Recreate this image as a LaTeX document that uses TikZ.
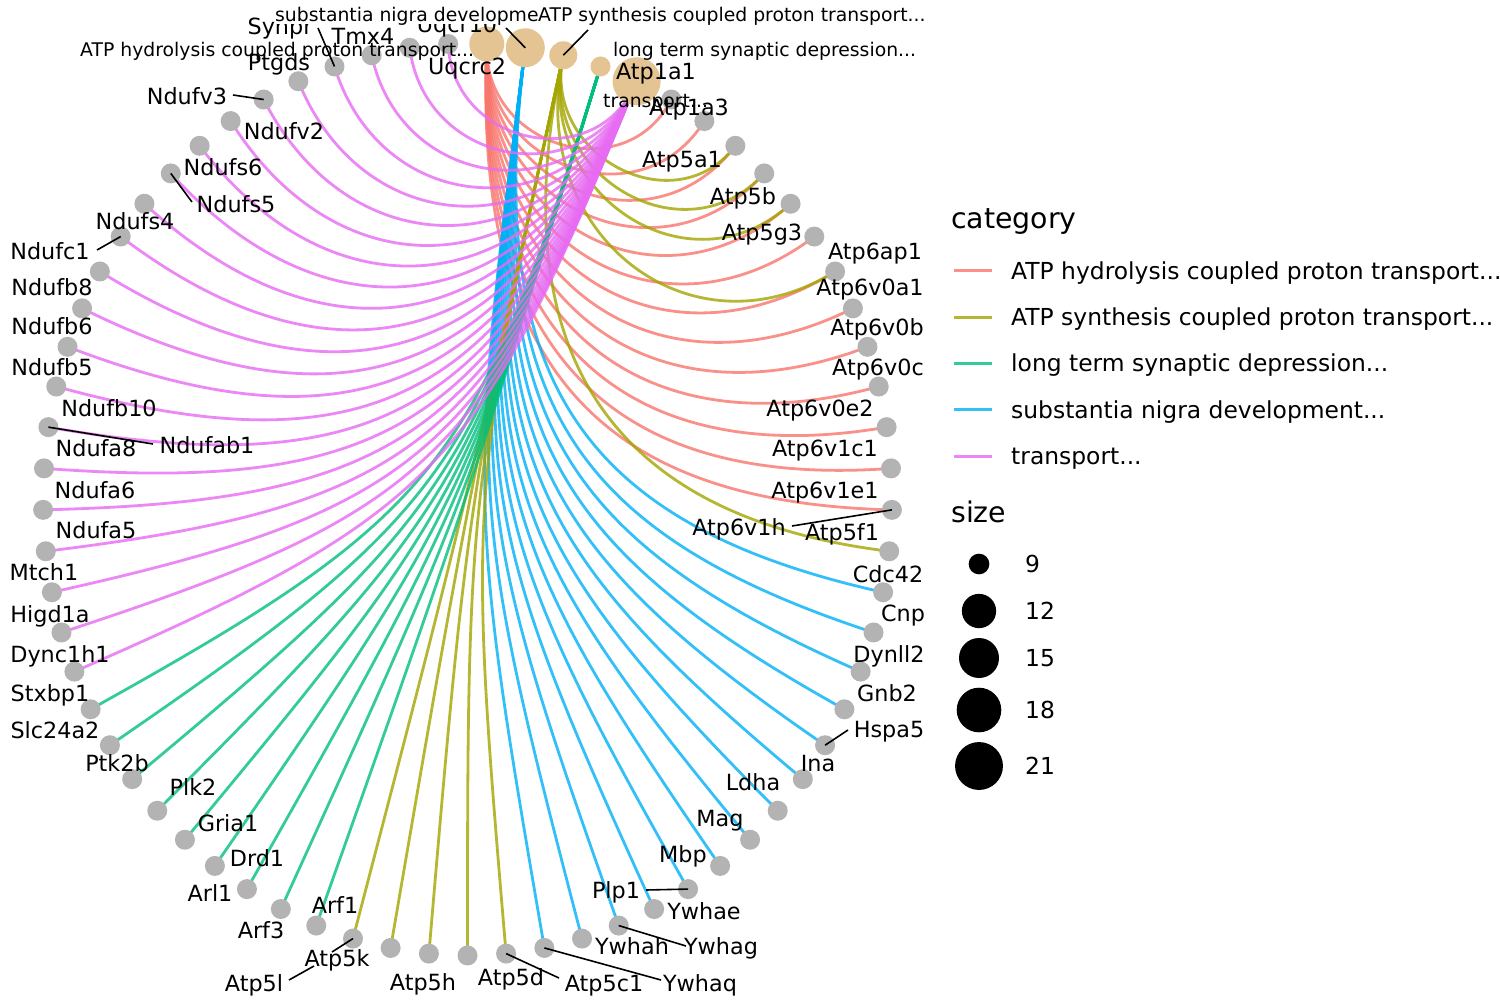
\documentclass[tikz,border=0pt]{standalone}
\usepackage{fontspec}
\setmainfont{DejaVu Sans}
\usetikzlibrary{calc}
\pgfdeclarelayer{background}
\pgfsetlayers{background,main}
\definecolor{cHyd}{HTML}{F8766D}
\definecolor{cSyn}{HTML}{A3A500}
\definecolor{cLtd}{HTML}{00BF7D}
\definecolor{cSub}{HTML}{00B0F6}
\definecolor{cTra}{HTML}{E76BF3}
\definecolor{geneGray}{HTML}{B3B3B3}
\definecolor{catTan}{HTML}{E5C494}
\newcommand{\catedge}[3]{%
  \pgfmathsetmacro\fa{(#1+0.5)*5.2173913}%
  \pgfmathsetmacro\fb{(#2+0.5)*5.2173913}%
  \pgfmathsetmacro\ff{1-abs(sin((\fa-\fb)/2))}%
  \draw[edgeline,#3] (n#1.center) .. controls ($(O)!\ff!(n#1.center)$) and ($(O)!\ff!(n#2.center)$) .. (n#2.center);}
\newcommand{\gl}[4]{\node[glab] (#1) at (#2,{#3+8}) {#4};}
\tikzset{
  gene/.style={circle, fill=geneGray, inner sep=0pt, minimum size=20pt},
  catnode/.style={circle, fill=catTan, inner sep=0pt},
  edgeline/.style={line width=2.8pt, opacity=0.8},
  keyline/.style={line width=3pt, opacity=0.8},
  glab/.style={font=\fontsize{22.3}{26}\selectfont, inner sep=0pt, anchor=base},
  clab/.style={font=\fontsize{18.8}{22}\selectfont, inner sep=0pt, anchor=base west},
  ltitle/.style={font=\fontsize{28.4}{32}\selectfont, inner sep=0pt, anchor=base west},
  ltext/.style={font=\fontsize{23.4}{27}\selectfont, inner sep=0pt, anchor=base west},
  leader/.style={line width=1.6pt, black},
  sizedot/.style={circle, fill=black, inner sep=0pt}
}
\begin{document}
\begin{tikzpicture}[x=1pt, y=-1pt]
\useasboundingbox (0,0) rectangle (1500,1000);
\coordinate (O) at (467.5,499.5);
\foreach \k in {0,...,68} {
  \pgfmathsetmacro\ang{(\k+0.5)*5.2173913}
  \coordinate (p\k) at ({467.5+424.5*sin(\ang)},{499.5-456*cos(\ang)});
}
% category nodes
\node[catnode, minimum size=35pt] (n0) at (p0) {};
\node[catnode, minimum size=39pt] (n1) at (p1) {};
\node[catnode, minimum size=28pt] (n2) at (p2) {};
\node[catnode, minimum size=20pt] (n3) at (p3) {};
\node[catnode, minimum size=48pt] (n4) at (p4) {};
% gene nodes
\foreach \k in {5,...,68} {\node[gene] (n\k) at (p\k) {};}
% edges
\begin{pgfonlayer}{background}
\fill[white] (0,0) rectangle (1500,1000);
\foreach \g in {5,...,17} {\catedge{0}{\g}{cHyd}}
\foreach \g in {19,...,32} {\catedge{1}{\g}{cSub}}
\foreach \g in {7,8,9,11,18,33,34,35,36,37} {\catedge{2}{\g}{cSyn}}
\foreach \g in {38,...,46} {\catedge{3}{\g}{cLtd}}
\foreach \g in {47,...,68} {\catedge{4}{\g}{cTra}}
\end{pgfonlayer}
% leader segments
\coordinate (sSynpr) at (318,28);   \draw[leader] (sSynpr) -- (n65.center);
\coordinate (sSub) at (506,28);     \draw[leader] (sSub) -- (n1.center);
\coordinate (sSyn) at (588,30);     \draw[leader] (sSyn) -- (n2.center);
\coordinate (sNdufv3) at (233,95);  \draw[leader] (sNdufv3) -- (n63.center);
\coordinate (sNdufs5) at (192,202); \draw[leader] (sNdufs5) -- (n60.center);
\coordinate (sNdufc1) at (97,250);  \draw[leader] (sNdufc1) -- (n58.center);
\coordinate (sNdufab1) at (153,444);\draw[leader] (sNdufab1) -- (n53.center);
\coordinate (sAtp6v1h) at (792,526);\draw[leader] (sAtp6v1h) -- (n17.center);
\coordinate (sHspa5) at (848,730);  \draw[leader] (sHspa5) -- (n23.center);
\coordinate (sPlp1) at (646,890);   \draw[leader] (sPlp1) -- (n28.center);
\coordinate (sYwhag) at (686,946);  \draw[leader] (sYwhag) -- (n30.center);
\coordinate (sYwhaq) at (661,980);  \draw[leader] (sYwhaq) -- (n32.center);
\coordinate (sAtp5c1) at (559,978); \draw[leader] (sAtp5c1) -- (n33.center);
\coordinate (sAtp5l) at (289,980);  \coordinate (sAtp5lGap) at (314,966);
\draw[leader] (sAtp5l) -- (sAtp5lGap);
\coordinate (sAtp5k) at (332,952);  \draw[leader] (sAtp5k) -- (n37.center);
% gene labels
\gl{lAtp1a1}{656}{72}{Atp1a1}
\gl{lAtp1a3}{689}{108}{Atp1a3}
\gl{lAtp5a1}{682}{160}{Atp5a1}
\gl{lAtp5b}{743}{197}{Atp5b}
\gl{lAtp5g3}{762}{233}{Atp5g3}
\gl{lAtp6ap1}{875}{252}{Atp6ap1}
\gl{lAtp6v0a1}{870}{288}{Atp6v0a1}
\gl{lAtp6v0b}{877}{328}{Atp6v0b}
\gl{lAtp6v0c}{878}{367}{Atp6v0c}
\gl{lAtp6v0e2}{820}{408}{Atp6v0e2}
\gl{lAtp6v1c1}{825}{448}{Atp6v1c1}
\gl{lAtp6v1e1}{825}{490}{Atp6v1e1}
\gl{lAtp6v1h}{739}{527}{Atp6v1h}
\gl{lAtp5f1}{842}{532}{Atp5f1}
\gl{lCdc42}{888}{574}{Cdc42}
\gl{lCnp}{903}{613}{Cnp}
\gl{lDynll2}{889}{654}{Dynll2}
\gl{lGnb2}{887}{693}{Gnb2}
\gl{lHspa5}{889}{729}{Hspa5}
\gl{lIna}{818}{763}{Ina}
\gl{lLdha}{753}{782}{Ldha}
\gl{lMag}{720}{818}{Mag}
\gl{lMbp}{683}{854}{Mbp}
\gl{lPlp1}{616}{890}{Plp1}
\gl{lYwhae}{704}{911}{Ywhae}
\gl{lYwhag}{721}{946}{Ywhag}
\gl{lYwhah}{632}{946}{Ywhah}
\gl{lYwhaq}{700}{983}{Ywhaq}
\gl{lAtp5c1}{604}{983}{Atp5c1}
\gl{lAtp5d}{511}{977}{Atp5d}
\gl{lAtp5h}{423}{982}{Atp5h}
\gl{lAtp5k}{337}{958}{Atp5k}
\gl{lAtp5l}{254}{983}{Atp5l}
\gl{lArf1}{335}{905}{Arf1}
\gl{lArf3}{261}{930}{Arf3}
\gl{lArl1}{210}{893}{Arl1}
\gl{lDrd1}{257}{858}{Drd1}
\gl{lGria1}{228}{823}{Gria1}
\gl{lPlk2}{193}{787}{Plk2}
\gl{lPtk2b}{117}{763}{Ptk2b}
\gl{lSlc24a2}{55}{730}{Slc24a2}
\gl{lStxbp1}{50}{693}{Stxbp1}
\gl{lDync1h1}{60}{654}{Dync1h1}
\gl{lHigd1a}{50}{614}{Higd1a}
\gl{lMtch1}{44}{572}{Mtch1}
\gl{lNdufa5}{96}{530}{Ndufa5}
\gl{lNdufa6}{95}{490}{Ndufa6}
\gl{lNdufa8}{96}{448}{Ndufa8}
\gl{lNdufab1}{207}{445}{Ndufab1}
\gl{lNdufb10}{109}{408}{Ndufb10}
\gl{lNdufb5}{52}{367}{Ndufb5}
\gl{lNdufb6}{52}{327}{Ndufb6}
\gl{lNdufb8}{52}{288}{Ndufb8}
\gl{lNdufc1}{50}{252}{Ndufc1}
\gl{lNdufs4}{135}{222}{Ndufs4}
\gl{lNdufs5}{236}{205}{Ndufs5}
\gl{lNdufs6}{223}{168}{Ndufs6}
\gl{lNdufv2}{284}{132}{Ndufv2}
\gl{lNdufv3}{187}{97}{Ndufv3}
\gl{lPtgds}{279}{63}{Ptgds}
\gl{lSynpr}{280}{27}{Synpr}
\gl{lTmx4}{363}{37}{Tmx4}
\gl{lUqcr10}{457}{25}{Uqcr10}
\gl{lUqcrc2}{467}{67}{Uqcrc2}
% category labels
\node[clab] (lc0) at (80,57) {ATP hydrolysis coupled proton transport...};
\node[clab, fill=white, text depth=2pt] (lc1) at (275,22) {substantia nigra development...};
\node[clab, fill=white, text depth=2pt] (lc2) at (538,22) {ATP synthesis coupled proton transport...};
\node[clab] (lc3) at (613,57) {long term synaptic depression...};
\node[clab] (lc4) at (603,108) {transport...};
% legend
\node[ltitle] (tCat) at (951,229) {category};
\foreach \yy/\cc/\nm in {271/cHyd/k1, 317.5/cSyn/k2, 363.5/cLtd/k3, 409.5/cSub/k4, 456/cTra/k5} {
  \coordinate (\nm a) at (954,\yy);
  \coordinate (\nm b) at (992,\yy);
  \draw[keyline,\cc] (\nm a) -- (\nm b);
}
\node[ltext] (lg1) at (1011,279.5) {ATP hydrolysis coupled proton transport...};
\node[ltext] (lg2) at (1011,326) {ATP synthesis coupled proton transport...};
\node[ltext] (lg3) at (1011,372) {long term synaptic depression...};
\node[ltext] (lg4) at (1011,418) {substantia nigra development...};
\node[ltext] (lg5) at (1011,464.5) {transport...};
\node[ltitle] (tSize) at (951,522) {size};
\node[sizedot, minimum size=20.7pt] (sd9) at (979,564) {};
\node[sizedot, minimum size=34.3pt] (sd12) at (979,611) {};
\node[sizedot, minimum size=40pt] (sd15) at (979,658) {};
\node[sizedot, minimum size=44.6pt] (sd18) at (979,710) {};
\node[sizedot, minimum size=47.9pt] (sd21) at (979,766) {};
\node[ltext] (ls9) at (1025,572.5) {9};
\node[ltext] (ls12) at (1025,619.5) {12};
\node[ltext] (ls15) at (1025,666.5) {15};
\node[ltext] (ls18) at (1025,718.5) {18};
\node[ltext] (ls21) at (1025,774.5) {21};
\end{tikzpicture}
\end{document}
